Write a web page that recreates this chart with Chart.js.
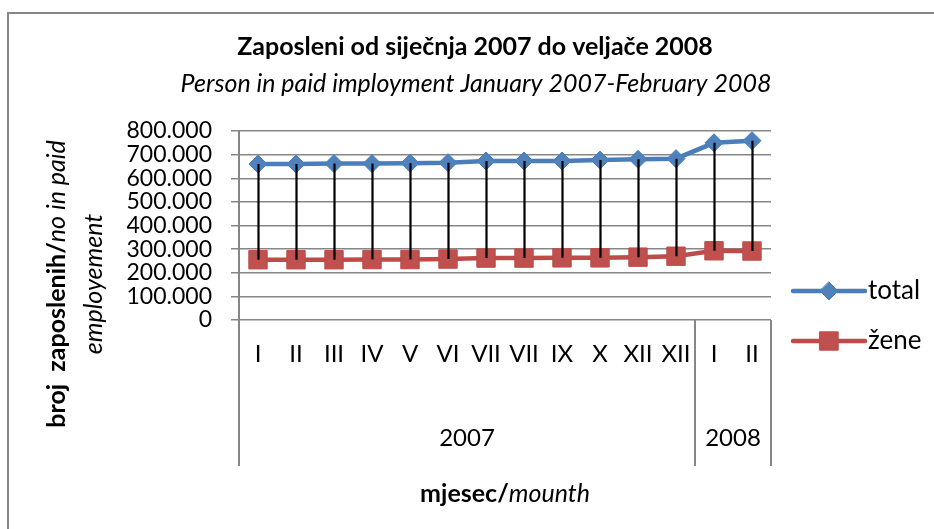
<!DOCTYPE html>
<html>
<head>
<meta charset="utf-8">
<script src="https://cdn.jsdelivr.net/npm/chart.js@4/dist/chart.umd.min.js"></script>
<style>
  html, body { margin: 0; padding: 0; background: #fff; }
  #wrap { width: 934px; height: 529px; }
</style>
</head>
<body>
<div id="wrap"><canvas id="employmentChart" width="934" height="529"></canvas></div>
<script>
// data
var months = ['I', 'II', 'III', 'IV', 'V', 'VI', 'VII', 'VII', 'IX', 'X', 'XII', 'XII', 'I', 'II'];
var years = ['2007', '2008'];
var yearSpans = [12, 2];
var totalValues = [660000, 660000, 662000, 662000, 664000, 666000, 673000, 673000, 673000, 677000, 680000, 683000, 750000, 759000];
var zeneValues = [255000, 255000, 255000, 256000, 256000, 258000, 262000, 262000, 263000, 263000, 266000, 270000, 293000, 292000];
var yTicks = [0, 100000, 200000, 300000, 400000, 500000, 600000, 700000, 800000];

var FONT = 'Lato, "Open Sans", sans-serif';
var GRID = '#868686';
var BLUE = '#4A7EBB';
var RED = '#BE4B48';

function fmt(v) {
  return String(v).replace(/\B(?=(\d{3})+(?!\d))/g, '.');
}

// draws "bold part" + "italic part" centred on x
function mixedText(ctx, x, y, boldPart, italicPart, size) {
  ctx.font = 'bold ' + size + 'px ' + FONT;
  var w1 = ctx.measureText(boldPart).width;
  ctx.font = 'italic ' + size + 'px ' + FONT;
  var w2 = ctx.measureText(italicPart).width;
  var start = x - (w1 + w2) / 2;
  ctx.textAlign = 'left';
  ctx.font = 'bold ' + size + 'px ' + FONT;
  ctx.fillText(boldPart, start, y);
  ctx.font = 'italic ' + size + 'px ' + FONT;
  ctx.fillText(italicPart, start + w1, y);
}

var overlay = {
  id: 'overlay',
  beforeDraw: function (chart) {
    var ctx = chart.ctx;
    ctx.save();
    ctx.fillStyle = '#fff';
    ctx.fillRect(0, 0, chart.width, chart.height);
    ctx.strokeStyle = GRID;
    ctx.lineWidth = 2;
    ctx.beginPath();
    ctx.moveTo(8, chart.height);
    ctx.lineTo(8, 13);
    ctx.lineTo(chart.width, 13);
    ctx.stroke();
    ctx.restore();
  },
  afterDatasetsDraw: function (chart) {
    // high-low lines between the two series
    var ctx = chart.ctx;
    var x = chart.scales.x;
    var y = chart.scales.y;
    ctx.save();
    ctx.strokeStyle = '#000';
    ctx.lineWidth = 2.2;
    ctx.beginPath();
    for (var i = 0; i < months.length; i++) {
      var px = Math.round(x.getPixelForValue(i)) + 0.5;
      ctx.moveTo(px, y.getPixelForValue(totalValues[i]));
      ctx.lineTo(px, y.getPixelForValue(zeneValues[i]));
    }
    ctx.stroke();
    ctx.restore();
  },
  afterDraw: function (chart) {
    var ctx = chart.ctx;
    var area = chart.chartArea;
    var x = chart.scales.x;
    var bottom = 466;
    ctx.save();

    // titles
    ctx.fillStyle = '#000';
    ctx.textBaseline = 'middle';
    ctx.textAlign = 'center';
    ctx.font = 'bold 25px ' + FONT;
    ctx.fillText('Zaposleni od siječnja 2007 do veljače 2008', 475, 47);
    ctx.font = 'italic 25px ' + FONT;
    ctx.fillText('Person in paid imployment January 2007-February 2008', 476, 84);

    // category axis: separators, months, years
    ctx.strokeStyle = GRID;
    ctx.lineWidth = 2;
    var bounds = [area.left];
    var acc = 0;
    for (var g = 0; g < yearSpans.length; g++) {
      acc += yearSpans[g];
      var b = acc < months.length
        ? (x.getPixelForValue(acc - 1) + x.getPixelForValue(acc)) / 2
        : area.right;
      bounds.push(b);
    }
    ctx.beginPath();
    for (var k = 0; k < bounds.length; k++) {
      var bx = Math.round(bounds[k]);
      ctx.moveTo(bx, area.bottom);
      ctx.lineTo(bx, bottom);
    }
    ctx.stroke();

    ctx.font = '24px ' + FONT;
    ctx.textAlign = 'center';
    for (var i = 0; i < months.length; i++) {
      ctx.fillText(months[i], x.getPixelForValue(i), 354);
    }
    for (var j = 0; j < years.length; j++) {
      ctx.fillText(years[j], (bounds[j] + bounds[j + 1]) / 2, 438);
    }

    // axis titles
    mixedText(ctx, (area.left + area.right) / 2, 494, 'mjesec/', 'mounth', 25);
    ctx.save();
    ctx.translate(57, 284);
    ctx.rotate(-Math.PI / 2);
    mixedText(ctx, 0, 0, 'broj  zaposlenih/', 'no in paid', 25);
    ctx.font = 'italic 25px ' + FONT;
    ctx.textAlign = 'center';
    ctx.fillText('employement', 0, 37);
    ctx.restore();

    // legend
    var items = chart.data.datasets;
    var ly = [291, 341];
    for (var d = 0; d < items.length; d++) {
      var ds = items[d];
      ctx.strokeStyle = ds.borderColor;
      ctx.lineWidth = 4.5;
      ctx.lineCap = 'round';
      ctx.beginPath();
      ctx.moveTo(793, ly[d]);
      ctx.lineTo(865, ly[d]);
      ctx.stroke();
      ctx.fillStyle = ds.pointBackgroundColor;
      ctx.strokeStyle = ds.pointBorderColor;
      ctx.lineWidth = 1;
      ctx.beginPath();
      if (ds.pointStyle === 'rectRot') {
        var r = ds.pointRadius;
        ctx.moveTo(829, ly[d] - r);
        ctx.lineTo(829 + r, ly[d]);
        ctx.lineTo(829, ly[d] + r);
        ctx.lineTo(829 - r, ly[d]);
      } else {
        var s = ds.pointRadius * Math.SQRT1_2;
        ctx.rect(829 - s, ly[d] - s, 2 * s, 2 * s);
      }
      ctx.closePath();
      ctx.fill();
      ctx.stroke();
      ctx.fillStyle = '#000';
      ctx.font = '26px ' + FONT;
      ctx.textAlign = 'left';
      ctx.fillText(ds.label, 868, ly[d]);
    }
    ctx.restore();
  }
};

new Chart(document.getElementById('employmentChart'), {
  type: 'line',
  data: {
    labels: months,
    datasets: [{
      label: 'total',
      data: totalValues,
      borderColor: BLUE,
      backgroundColor: BLUE,
      borderWidth: 4.5,
      pointStyle: 'rectRot',
      pointRadius: 9,
      pointHoverRadius: 9,
      pointBackgroundColor: '#4F81BD',
      pointBorderColor: '#4A7EBB',
      pointBorderWidth: 1,
      tension: 0
    }, {
      label: 'žene',
      data: zeneValues,
      borderColor: RED,
      backgroundColor: RED,
      borderWidth: 4.5,
      pointStyle: 'rect',
      pointRadius: 13,
      pointHoverRadius: 13,
      pointBackgroundColor: '#C0504D',
      pointBorderColor: '#BE4B48',
      pointBorderWidth: 1,
      tension: 0
    }]
  },
  options: {
    responsive: false,
    animation: false,
    events: [],
    layout: { padding: { top: 131, right: 163, bottom: 0, left: 0 } },
    plugins: {
      legend: { display: false },
      tooltip: { enabled: false }
    },
    scales: {
      x: {
        type: 'category',
        offset: true,
        grid: { display: false },
        border: { display: false },
        ticks: { display: false },
        afterFit: function (scale) { scale.height = 209; }
      },
      y: {
        min: 0,
        max: 800000,
        afterBuildTicks: function (scale) {
          scale.ticks = yTicks.map(function (v) { return { value: v }; });
        },
        grid: { color: GRID, lineWidth: 1.5, tickLength: 8, drawTicks: true },
        border: { display: true, color: GRID, width: 2 },
        ticks: {
          autoSkip: false,
          padding: 19,
          color: '#000',
          font: { family: FONT, size: 23 },
          callback: function (v) { return fmt(v); }
        },
        afterFit: function (scale) { scale.width = 239; }
      }
    }
  },
  plugins: [overlay]
});
</script>
</body>
</html>
